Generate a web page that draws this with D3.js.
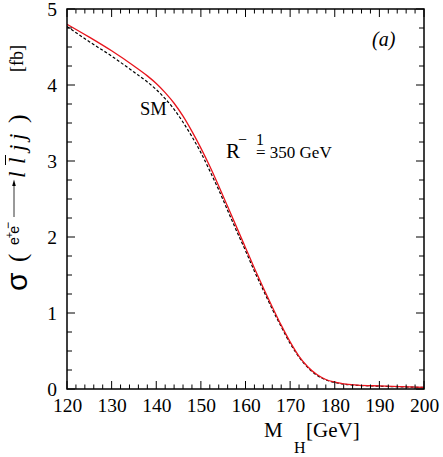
<!DOCTYPE html>
<html><head><meta charset="utf-8">
<script src="https://cdn.jsdelivr.net/npm/d3@7"></script>
<style>body{margin:0;background:#fff}svg{display:block}</style>
</head><body>
<script>
const massH    = [120,125,130,135,138,140,142,144,146,148,150,152,154,156,158,160,162,164,166,168,170,172,174,176,178,180,182,185,190,195,200];
const sigmaUED = [4.80,4.63,4.45,4.25,4.12,4.02,3.90,3.76,3.59,3.39,3.17,2.93,2.67,2.40,2.13,1.86,1.59,1.33,1.08,0.84,0.62,0.43,0.29,0.19,0.125,0.09,0.068,0.052,0.04,0.03,0.022];
const sigmaSM  = [4.77,4.57,4.38,4.17,4.04,3.94,3.82,3.68,3.51,3.32,3.11,2.87,2.62,2.35,2.08,1.82,1.55,1.30,1.05,0.82,0.60,0.42,0.28,0.18,0.12,0.085,0.063,0.048,0.037,0.028,0.02];
const xTicks = [120,130,140,150,160,170,180,190,200];
const yTicks = [0,1,2,3,4,5];

const W=443,H=457, L=67,R=424,T=9,B=389;
const SERIF="Liberation Serif", SANS="Liberation Sans";
const svg=d3.select("body").append("svg").attr("width",W).attr("height",H);
const x=d3.scaleLinear().domain([120,200]).range([L,R]);
const y=d3.scaleLinear().domain([0,5]).range([B,T]);

svg.append("clipPath").attr("id","c").append("rect").attr("x",L).attr("y",T).attr("width",R-L).attr("height",B-T);
const line=(vals)=>d3.line().x((d,i)=>x(massH[i])).y(d=>y(d)).curve(d3.curveMonotoneX)(vals);
const g=svg.append("g").attr("clip-path","url(#c)");
g.append("path").attr("d",line(sigmaSM)).attr("fill","none").attr("stroke","#000").attr("stroke-width",1.2).attr("stroke-dasharray","3,2");
g.append("path").attr("d",line(sigmaUED)).attr("fill","none").attr("stroke","#e8141c").attr("stroke-width",1.3);

const xMinor=d3.range(120,201,2), yMinor=d3.range(0,5.001,0.25);
const a=svg.append("g").attr("stroke","#000").attr("stroke-width",1);
xMinor.forEach(v=>{const major=v%10===0, len=major?8:4.5;
  a.append("line").attr("x1",x(v)).attr("x2",x(v)).attr("y1",B).attr("y2",B-len);
  a.append("line").attr("x1",x(v)).attr("x2",x(v)).attr("y1",T).attr("y2",T+len);});
yMinor.forEach(v=>{const major=Math.abs(v-Math.round(v))<1e-6, len=major?8:5;
  a.append("line").attr("y1",y(v)).attr("y2",y(v)).attr("x1",L).attr("x2",L+len);
  a.append("line").attr("y1",y(v)).attr("y2",y(v)).attr("x1",R).attr("x2",R-len);});
svg.append("rect").attr("x",L).attr("y",T).attr("width",R-L).attr("height",B-T).attr("fill","none").attr("stroke","#000").attr("stroke-width",1.5);

const xAx=svg.append("g").attr("transform",`translate(0,${B})`).call(d3.axisBottom(x).tickValues(xTicks).tickSize(0).tickPadding(0).tickFormat(d3.format("d")));
xAx.attr("font-family",SERIF).attr("font-size",19.5);
xAx.select(".domain").remove();
xAx.selectAll("text").attr("fill","#000").attr("dy",null).attr("y",23);
const yAx=svg.append("g").attr("transform",`translate(${L},0)`).call(d3.axisLeft(y).tickValues(yTicks).tickSize(0).tickPadding(10).tickFormat(d3.format("d")));
yAx.attr("font-family",SERIF).attr("font-size",19.5);
yAx.select(".domain").remove();
yAx.selectAll("text").attr("fill","#000").attr("dy","0.32em");

function txt(fam,xp,yp,size,t,style){
  return svg.append("text").attr("font-family",fam).attr("x",xp).attr("y",yp).attr("font-size",size).attr("font-style",style||"normal").attr("fill","#000").text(t);
}
txt(SERIF,264,437,21,"M");
txt(SERIF,294,452.5,16,"H");
txt(SERIF,306,437,21,"[GeV]");

function rot(t,yb,xb,size,fam,style){
  return svg.append("text").attr("font-family",fam).attr("transform",`translate(${xb},${yb}) rotate(-90)`).attr("font-size",size).attr("font-style",style||"normal").attr("fill","#000").text(t);
}
rot("σ",291,27,30,SANS);
rot("(",262,26,25,SERIF);
const ee=svg.append("text").attr("font-family",SANS).attr("transform","translate(18.5,245) rotate(-90)").attr("font-size",14).attr("fill","#000");
ee.append("tspan").text("e");
ee.append("tspan").attr("font-size",11).attr("dy",-6).attr("dx",-1).text("+");
ee.append("tspan").attr("dy",6).attr("dx",-2).text("e");
ee.append("tspan").attr("font-size",12).attr("dy",-7).attr("dx",-3).text("−");
svg.append("line").attr("x1",14).attr("x2",14).attr("y1",217).attr("y2",183).attr("stroke","#000").attr("stroke-width",0.8);
svg.append("path").attr("d","M14,179.5 L12.2,186 L15.8,186 Z").attr("fill","#000");
rot("l",178,25,23,SERIF,"italic");
rot("l",164,25,23,SERIF,"italic");
svg.append("line").attr("x1",5.5).attr("x2",5.5).attr("y1",165).attr("y2",155).attr("stroke","#000").attr("stroke-width",1);
rot("j",151,25,23,SERIF,"italic");
rot("j",140,25,23,SERIF,"italic");
rot(")",123,26,26,SERIF);
rot("[fb]",72,23,18,SERIF);

txt(SERIF,140,115,18.5,"SM");
txt(SERIF,226,157.7,21,"R");
txt(SERIF,238,145,16,"−");
txt(SERIF,256,145,16,"1");
txt(SERIF,256,157.7,17,"= 350 GeV");
txt(SERIF,372,46,20,"(a)","italic");
</script>
</body></html>
